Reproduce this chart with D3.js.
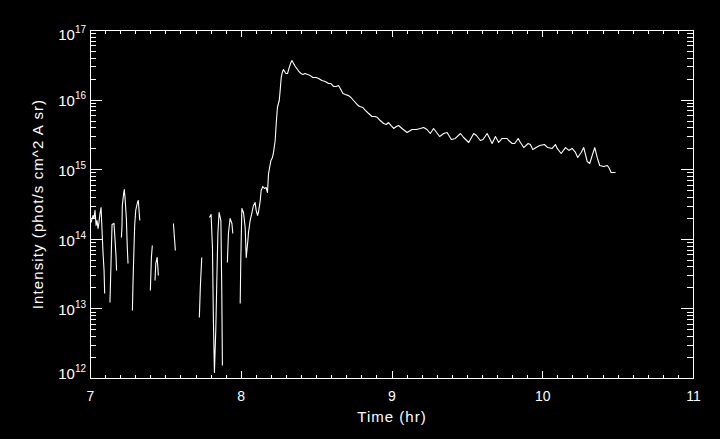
<!DOCTYPE html>
<html><head><meta charset="utf-8">
<script src="https://cdn.jsdelivr.net/npm/d3@7"></script>
<style>html,body{margin:0;padding:0;background:#000;} svg{display:block}</style>
</head><body><svg id="c" width="720" height="439"></svg>
<script>
// ---- data (time in hours, intensity in phot/s cm^2 A sr; null = data gap) ----
const timeHr = [
  7.003,7.017,7.023,7.030,7.037,7.043,7.050,7.056,7.063,7.070,7.076,7.083,7.090,7.094,
  7.110,
  7.129,7.136,7.143,7.156,7.163,7.169,7.173,
  7.190,
  7.205,7.209,7.211,7.220,7.224,7.229,7.238,7.244,7.249,
  7.262,
  7.278,7.282,7.289,7.293,7.300,7.307,7.313,7.317,7.322,7.327,
  7.360,
  7.397,7.404,7.410,
  7.420,
  7.428,7.433,7.442,7.446,7.450,
  7.500,
  7.550,7.563,
  7.650,
  7.722,7.729,7.738,
  7.760,
  7.789,7.800,7.809,7.815,7.822,7.831,7.838,7.845,7.853,7.865,7.871,7.875,
  7.890,
  7.908,7.915,7.926,7.938,7.944,
  7.970,
  7.993,7.997,8.004,8.015,8.026,8.033,8.044,8.048,8.059,8.070,
  8.081,8.092,8.099,8.108,8.114,8.126,8.132,8.143,8.154,8.165,
  8.174,8.181,8.187,8.197,8.207,8.214,8.225,8.232,8.240,8.252,
  8.258,8.265,8.272,8.280,8.292,8.298,8.307,8.316,8.327,8.336,
  8.347,8.358,8.369,8.382,8.396,8.409,8.424,8.440,8.458,8.475,
  8.497,8.513,8.535,8.557,8.579,8.595,8.612,8.630,8.645,8.657,
  8.675,8.690,8.712,8.728,8.745,8.768,8.785,8.807,8.823,8.845,
  8.867,8.889,8.904,8.922,8.944,8.962,8.977,8.993,9.011,9.029,
  9.044,9.066,9.100,9.133,9.161,9.188,9.210,9.232,9.254,9.276,
  9.316,9.343,9.365,9.394,9.420,9.454,9.475,9.509,9.542,9.560,
  9.586,9.604,9.631,9.648,9.664,9.686,9.708,9.730,9.764,9.774,
  9.797,9.814,9.837,9.852,9.874,9.903,9.918,9.934,9.956,9.980,
  10.011,10.033,10.062,10.084,10.096,10.122,10.151,10.173,10.195,10.217,
  10.232,10.255,10.272,10.295,10.312,10.328,10.345,10.361,10.378,10.405,
  10.428,10.438,10.454,10.483
];
const intensity = [
  1.74e14,2.2e14,1.99e14,2.6e14,1.58e14,1.86e14,1.43e14,1.74e14,2.35e14,2.86e14,1.43e14,6.46e13,3.56e13,1.66e13,
  null,
  1.24e13,4.49e13,1.63e14,1.69e14,9.6e13,5.85e13,3.56e13,
  null,
  1.06e14,1.58e14,3.06e14,4.55e14,5.2e14,3.99e14,1.99e14,7.62e13,4.49e13,
  null,
  9.5e12,2.39e13,8.15e13,1.58e14,2.6e14,3.06e14,3.49e14,3.6e14,2.6e14,1.86e14,
  null,
  1.84e13,5.48e13,8.15e13,
  null,
  2.56e13,4.49e13,5.48e13,4.21e13,3.02e13,
  null,
  1.69e14,6.9e13,
  null,
  7.5e12,2.17e13,5.48e13,
  null,
  2.06e14,2.27e14,7.62e13,7.5e12,1.22e12,4.9e12,2.56e13,1.21e14,2.43e14,1.86e14,1.66e13,1.54e12,
  null,
  4.64e13,1.21e14,1.99e14,1.69e14,1.21e14,
  null,
  1.2e13,4.96e13,2.77e14,2.43e14,1.48e14,5.48e13,9.6e13,1.25e14,1.86e14,2.35e14,
  3.06e14,3.38e14,2.6e14,2.2e14,2.43e14,3.6e14,5.02e14,5.74e14,5.37e14,5.55e14,
  4.7e14,8.8e14,1.04e15,1.36e15,1.5e15,1.77e15,2.63e15,4.61e15,7.83e15,9.87e15,
  1.37e16,2.11e16,2.49e16,2.75e16,2.49e16,2.41e16,2.41e16,2.84e16,3.36e16,3.71e16,
  3.36e16,3.04e16,2.84e16,2.58e16,2.41e16,2.33e16,2.41e16,2.33e16,2.25e16,2.11e16,
  2.11e16,2.04e16,1.91e16,1.85e16,1.73e16,1.73e16,1.57e16,1.57e16,1.62e16,1.47e16,
  1.24e16,1.2e16,1.16e16,1.09e16,9.87e15,8.65e15,8.09e15,7.83e15,7.1e15,6.42e15,
  5.81e15,5.81e15,5.62e15,5.09e15,4.61e15,4.46e15,4.76e15,4.32e15,3.91e15,4.18e15,
  4.32e15,3.91e15,3.42e15,3.78e15,3.78e15,3.91e15,4.04e15,3.78e15,3.31e15,3.91e15,
  3.0e15,3.31e15,3.42e15,2.72e15,2.81e15,3.31e15,2.9e15,2.46e15,3.31e15,3.1e15,
  2.63e15,2.72e15,3.31e15,2.81e15,2.38e15,3.0e15,2.46e15,2.81e15,2.81e15,2.63e15,
  2.38e15,2.38e15,2.81e15,2.46e15,2.08e15,2.38e15,2.3e15,1.95e15,2.08e15,2.23e15,
  2.3e15,2.08e15,2.02e15,2.3e15,2.02e15,1.71e15,2.08e15,1.89e15,2.02e15,1.77e15,
  1.5e15,1.77e15,2.08e15,1.31e15,1.23e15,1.6e15,2.08e15,1.5e15,1.15e15,1.11e15,
  1.15e15,1.08e15,9.1e14,9.1e14
];
const xTickValues = [7, 8, 9, 10, 11];
const xTickLabels = ["7", "8", "9", "10", "11"];
const yExponents = [12, 13, 14, 15, 16, 17];
const xTitle = "Time (hr)";
const yTitle = "Intensity (phot/s cm^2 A sr)";

// ---- layout ----
const W = 720, H = 439;
const L = 90, R = 693, T = 30, B = 378;
const FONT = "'Liberation Sans', Arial, sans-serif";

const svg = d3.select("#c");
svg.append("rect").attr("width", W).attr("height", H).attr("fill", "#000");

const x = d3.scaleLinear().domain([7, 11]).range([L, R]);
const y = d3.scaleLog().domain([1e12, 1e17]).range([B, T]);

const xMinor = d3.range(70, 111).map(i => i / 10).filter(v => Math.abs(v - Math.round(v)) > 1e-6);
const yMajor = yExponents.map(e => Math.pow(10, e));
const yMinor = [];
yExponents.slice(0, -1).forEach(e => { for (let m = 2; m <= 9; m++) yMinor.push(m * Math.pow(10, e)); });

function styleAxis(g) {
  g.select(".domain").remove();
  g.selectAll(".tick line").attr("stroke", "#fff").attr("stroke-width", 1).attr("shape-rendering", "crispEdges");
  g.selectAll(".tick text").remove();
}
const axes = [
  [d3.axisBottom(x).tickValues(xTickValues).tickSize(-7), `translate(0,${B})`],
  [d3.axisBottom(x).tickValues(xMinor).tickSize(-3.5), `translate(0,${B})`],
  [d3.axisTop(x).tickValues(xTickValues).tickSize(-7), `translate(0,${T})`],
  [d3.axisTop(x).tickValues(xMinor).tickSize(-3.5), `translate(0,${T})`],
  [d3.axisLeft(y).tickValues(yMajor).tickSize(-12), `translate(${L},0)`],
  [d3.axisLeft(y).tickValues(yMinor).tickSize(-6), `translate(${L},0)`],
  [d3.axisRight(y).tickValues(yMajor).tickSize(-12), `translate(${R},0)`],
  [d3.axisRight(y).tickValues(yMinor).tickSize(-6), `translate(${R},0)`]
];
axes.forEach(([ax, tr]) => svg.append("g").attr("transform", tr).call(ax.tickFormat("")).call(styleAxis));

// frame
svg.append("rect").attr("x", L + 0.5).attr("y", T + 0.5).attr("width", R - L).attr("height", B - T)
  .attr("fill", "none").attr("stroke", "#fff").attr("stroke-width", 1).attr("shape-rendering", "crispEdges");

// data line
const pts = timeHr.map((t, i) => ({ t, v: intensity[i] }));
const line = d3.line().defined(d => d.v != null).x(d => x(d.t) + 0.5).y(d => y(d.v) + 0.5);
svg.append("path").datum(pts).attr("d", line).attr("fill", "none").attr("stroke", "#fff")
  .attr("stroke-width", 1.1).attr("stroke-linejoin", "round");

// x tick labels
svg.append("g").selectAll("text").data(xTickValues).join("text")
  .attr("x", d => x(d) + 0.5).attr("y", 401).attr("text-anchor", "middle")
  .attr("fill", "#fff").style("font", `14px ${FONT}`).text((d, i) => xTickLabels[i]);

// y tick labels: 10^e
const yLab = svg.append("g").selectAll("text").data(yExponents).join("text")
  .attr("x", 86)
  .attr("y", (e, i) => y(Math.pow(10, e)) + (i === 0 ? 1.3 : (i === yExponents.length - 1 ? 10 : 6.7)))
  .attr("text-anchor", "end").attr("fill", "#fff").style("font", `15px ${FONT}`);
yLab.append("tspan").text("10");
yLab.append("tspan").attr("dy", -7).style("font-size", "10px").text(e => e);

// titles
svg.append("text").attr("x", (L + R) / 2 + 0.5).attr("y", 422).attr("text-anchor", "middle")
  .attr("fill", "#fff").style("font", `15px ${FONT}`).style("letter-spacing", "1px").text(xTitle);
svg.append("text").attr("transform", `translate(43,${(T + B) / 2}) rotate(-90)`).attr("text-anchor", "middle")
  .attr("fill", "#fff").style("font", `15px ${FONT}`).style("letter-spacing", "1.1px").text(yTitle);
</script></body></html>
